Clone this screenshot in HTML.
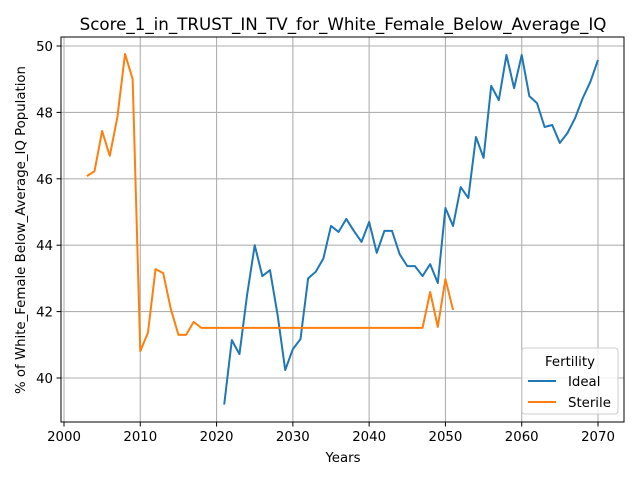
<!DOCTYPE html>
<html><head><meta charset="utf-8"><style>
body{margin:0;background:#fff}
svg text{font-family:"DejaVu Sans","Liberation Sans",sans-serif;fill:#000}
</style></head><body>
<svg id="chart" width="640" height="480">
<rect width="640" height="480" fill="#fff"/>
<text x="343" y="30" font-size="16.7" text-anchor="middle">Score_1_in_TRUST_IN_TV_for_White_Female_Below_Average_IQ</text>
<text x="343" y="462" font-size="13.3" text-anchor="middle">Years</text>
<text transform="translate(25,230) rotate(-90)" font-size="13.3" text-anchor="middle">% of White_Female Below_Average_IQ Population</text>
<g id="grid"></g><g id="series"></g>
<rect x="61" y="37" width="563" height="385" fill="none" stroke="#000" stroke-width="1"/>
<g>
<rect x="522" y="348" width="96" height="66" rx="3" fill="#fff" fill-opacity="0.8" stroke="#ccc"/>
<text x="570" y="366" font-size="13.3" text-anchor="middle">Fertility</text>
<line x1="528" y1="381" x2="556" y2="381" stroke="#1f77b4" stroke-width="2"/>
<text x="568" y="386" font-size="13.3">Ideal</text>
<line x1="528" y1="402" x2="556" y2="402" stroke="#ff7f0e" stroke-width="2"/>
<text x="568" y="407" font-size="13.3">Sterile</text>
</g>
</svg>
<script>
const xTicks=[2000,2010,2020,2030,2040,2050,2060,2070];
const yTicks=[40,42,44,46,48,50];
const idealYears=[2021,2022,2023,2024,2025,2026,2027,2028,2029,2030,2031,2032,2033,2034,2035,2036,2037,2038,2039,2040,2041,2042,2043,2044,2045,2046,2047,2048,2049,2050,2051,2052,2053,2054,2055,2056,2057,2058,2059,2060,2061,2062,2063,2064,2065,2066,2067,2068,2069,2070];
const idealValues=[39.2,41.14,40.72,42.5,44.0,43.07,43.25,41.9,40.24,40.87,41.17,43.0,43.2,43.6,44.58,44.4,44.79,44.43,44.1,44.7,43.77,44.43,44.43,43.73,43.37,43.37,43.07,43.43,42.86,45.12,44.58,45.75,45.42,47.26,46.63,48.8,48.37,49.73,48.73,49.73,48.49,48.28,47.56,47.62,47.08,47.38,47.83,48.43,48.92,49.58];
const sterileYears=[2003,2004,2005,2006,2007,2008,2009,2010,2011,2012,2013,2014,2015,2016,2017,2018,2019,2020,2021,2022,2023,2024,2025,2026,2027,2028,2029,2030,2031,2032,2033,2034,2035,2036,2037,2038,2039,2040,2041,2042,2043,2044,2045,2046,2047,2048,2049,2050,2051];
const sterileValues=[46.08,46.23,47.44,46.69,47.86,49.76,49.0,40.81,41.36,43.28,43.16,42.08,41.3,41.3,41.69,41.51,41.51,41.51,41.51,41.51,41.51,41.51,41.51,41.51,41.51,41.51,41.51,41.51,41.51,41.51,41.51,41.51,41.51,41.51,41.51,41.51,41.51,41.51,41.51,41.51,41.51,41.51,41.51,41.51,41.51,42.59,41.54,42.98,42.05];
const NS="http://www.w3.org/2000/svg";
const xS=v=>64+(v-2000)*534/70;
const yS=v=>46+(50-v)*33.2;
const grid=document.getElementById('grid'), ser=document.getElementById('series');
function mk(t,a,p){const e=document.createElementNS(NS,t);for(const k in a)e.setAttribute(k,a[k]);p.appendChild(e);return e;}
xTicks.forEach(t=>{const x=xS(t);
 const l=mk('line',{x1:x,x2:x,y1:37,y2:422,stroke:'#b0b0b0','stroke-width':1.1},grid);
 
 
 mk('line',{x1:x,x2:x,y1:422,y2:426.5,stroke:'#000'},grid);
 const tx=mk('text',{x:x,y:441,'font-size':13.3,'text-anchor':'middle'},grid);tx.textContent=t;
 
 });
yTicks.forEach(t=>{const y=yS(t);
 const l=mk('line',{x1:61,x2:624,y1:y,y2:y,stroke:'#b0b0b0','stroke-width':1.1},grid);
 
 
 mk('line',{x1:56.5,x2:61,y1:y,y2:y,stroke:'#000'},grid);
 const tx=mk('text',{x:53,y:y+5,'font-size':13.3,'text-anchor':'end'},grid);tx.textContent=t;
 
 });
function line(xs,ys,c,name){const p=mk('polyline',{points:xs.map((x,i)=>xS(x)+','+yS(ys[i])).join(' '),fill:'none',stroke:c,'stroke-width':2,'stroke-linejoin':'round'},ser);
 
 }
line(idealYears,idealValues,'#1f77b4','ideal-line');
line(sterileYears,sterileValues,'#ff7f0e','sterile-line');
</script>
</body></html>
